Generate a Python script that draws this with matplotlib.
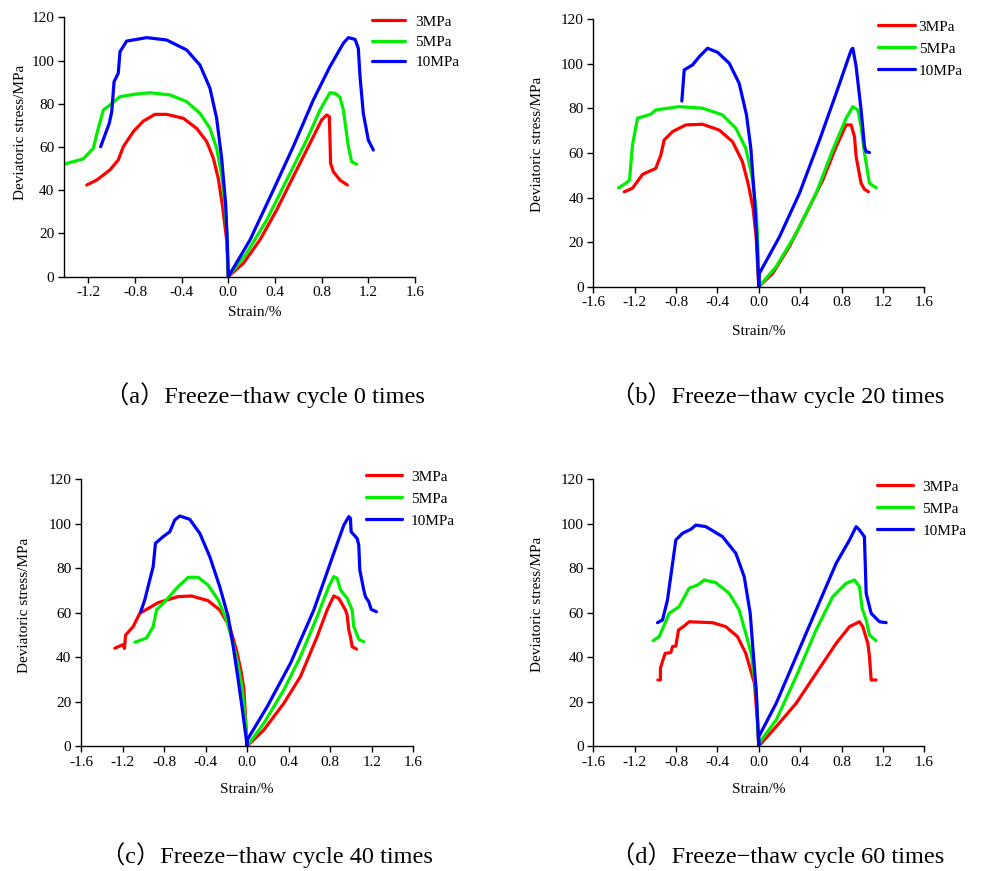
import matplotlib
matplotlib.use("Agg")
import matplotlib.pyplot as plt

plt.rcParams['font.family'] = ['Liberation Serif', 'Noto Sans CJK SC']
plt.rcParams['axes.unicode_minus'] = False

pressures = ['3MPa', '5MPa', '10MPa']
colors = ['#ff0000', '#00ee00', '#0000ff']
captions = ['（a）Freeze−thaw cycle 0 times', '（b）Freeze−thaw cycle 20 times',
            '（c）Freeze−thaw cycle 40 times', '（d）Freeze−thaw cycle 60 times']

# ---- 0 cycles
strain_0_3 = [-1.213, -1.128, -1.014, -0.943, -0.90, -0.814, -0.728, -0.628, -0.528, -0.386, -0.271,
              -0.185, -0.128, -0.086, -0.051, -0.014, 0.0, 0.129, 0.271, 0.414, 0.557, 0.70, 0.80,
              0.843, 0.866, 0.877, 0.90, 0.957, 1.02]
stress_0_3 = [42.4, 44.7, 49.4, 54.0, 60.1, 67.1, 72.0, 75.1, 75.1, 73.3, 68.6,
              62.5, 54.8, 45.5, 33.2, 17.0, 0.0, 6.2, 17.0, 30.8, 46.3, 61.7, 72.5,
              74.8, 74.0, 52.4, 48.6, 44.7, 42.4]
strain_0_5 = [-1.405, -1.243, -1.157, -1.114, -1.071, -1.014, -0.928, -0.80, -0.671, -0.50, -0.357,
              -0.243, -0.157, -0.10, -0.057, -0.028, -0.012, 0.0, 0.157, 0.329, 0.50, 0.671, 0.786,
              0.871, 0.914, 0.957, 0.986, 1.029, 1.057, 1.10]
stress_0_5 = [52.1, 54.5, 59.4, 68.7, 77.1, 79.4, 83.3, 84.4, 85.1, 84.1, 81.0,
              75.6, 68.6, 59.4, 47.1, 33.2, 20.0, 0.0, 10.8, 26.2, 44.7, 63.2, 77.1,
              85.1, 84.8, 83.0, 77.1, 60.2, 53.2, 52.0]
strain_0_10 = [-1.094, -1.02, -0.999, -0.979, -0.943, -0.928, -0.871, -0.699, -0.528, -0.357, -0.243,
               -0.157, -0.10, -0.057, -0.022, -0.008, 0.0, 0.186, 0.386, 0.557, 0.729, 0.871,
               0.986, 1.029, 1.086, 1.114, 1.129, 1.157, 1.20, 1.243]
stress_0_10 = [60.1, 71.0, 76.3, 90.2, 94.1, 104.1, 109.0, 110.6, 109.5, 104.9, 97.9,
               87.2, 73.3, 54.8, 33.2, 15.0, 0.0, 17.0, 40.1, 60.2, 81.8, 97.2,
               108.0, 110.6, 109.8, 105.7, 92.5, 75.6, 63.2, 58.6]

# ---- 20 cycles
strain_20_3 = [-1.301, -1.221, -1.124, -0.996, -0.947, -0.915, -0.834, -0.706, -0.544, -0.383, -0.254,
               -0.158, -0.10, -0.055, -0.025, 0.0, 0.135, 0.296, 0.458, 0.619, 0.748, 0.844,
               0.893, 0.925, 0.941, 0.989, 1.022, 1.06]
stress_20_3 = [42.6, 44.2, 50.4, 53.1, 59.1, 65.8, 69.6, 72.6, 72.9, 70.3, 65.1,
               56.1, 45.6, 35.0, 22.0, 0.0, 6.0, 18.0, 32.9, 47.9, 62.8, 72.6,
               72.6, 67.3, 58.4, 46.4, 43.7, 42.6]
strain_20_5 = [-1.355, -1.286, -1.25, -1.221, -1.173, -1.044, -0.996, -0.77, -0.544, -0.351, -0.222,
               -0.126, -0.068, -0.026, -0.01, 0.0, 0.168, 0.361, 0.554, 0.715, 0.844, 0.909,
               0.957, 0.989, 1.022, 1.07, 1.134]
stress_20_5 = [44.4, 46.4, 47.9, 63.6, 75.6, 77.4, 79.3, 80.8, 80.1, 77.1, 71.1,
               62.1, 50.1, 35.0, 20.0, 0.0, 9.0, 23.9, 41.9, 61.4, 75.6, 80.8,
               79.3, 71.8, 59.9, 46.4, 44.4]
strain_20_10 = [-0.744, -0.721, -0.641, -0.576, -0.496, -0.399, -0.286, -0.19, -0.119, -0.077, -0.044,
                -0.02, 0.0, 0.006, 0.2, 0.393, 0.587, 0.748, 0.893, 0.909, 0.941,
                0.989, 1.022, 1.038, 1.07]
stress_20_10 = [83.3, 97.3, 99.5, 103.2, 107.0, 105.2, 100.3, 91.3, 77.1, 62.1, 41.2,
                22.0, 0.0, 6.0, 22.4, 41.9, 65.8, 86.8, 106.2, 107.0, 98.8,
                79.3, 62.8, 60.6, 60.2]

# ---- 40 cycles
strain_40_3 = [-1.275, -1.194, -1.181, -1.171, -1.098, -1.034, -0.857, -0.665, -0.536, -0.376, -0.264,
               -0.168, -0.103, -0.06, -0.032, 0.0, 0.16, 0.353, 0.513, 0.674, 0.77, 0.834,
               0.883, 0.947, 0.963, 0.979, 0.995, 1.011, 1.053]
stress_40_3 = [44.0, 45.6, 43.9, 49.9, 53.7, 59.7, 64.5, 67.2, 67.5, 65.4, 61.2,
               53.7, 43.2, 34.0, 26.0, 0.0, 7.2, 19.2, 31.2, 49.2, 61.2, 67.5,
               66.4, 61.2, 58.9, 52.2, 49.2, 44.7, 43.6]
strain_40_5 = [-1.082, -0.97, -0.905, -0.873, -0.793, -0.665, -0.568, -0.472, -0.376, -0.279, -0.199,
               -0.135, -0.09, -0.048, -0.02, 0.0, 0.16, 0.353, 0.513, 0.674, 0.786, 0.834, 0.866,
               0.899, 0.963, 1.011, 1.027, 1.075, 1.123]
stress_40_5 = [46.7, 48.5, 53.7, 61.2, 64.9, 71.7, 75.9, 75.9, 72.4, 65.7, 56.7,
               46.2, 37.0, 26.0, 13.0, 0.0, 10.2, 25.2, 40.2, 58.2, 71.7, 76.2, 75.5,
               70.2, 66.5, 61.2, 53.7, 48.0, 46.9]
strain_40_10 = [-1.025, -0.986, -0.938, -0.905, -0.883, -0.809, -0.745, -0.697, -0.649, -0.553, -0.456,
                -0.36, -0.264, -0.183, -0.135, -0.09, -0.045, 0.0, 0.0, 0.193, 0.417, 0.642,
                0.834, 0.931, 0.979, 0.995, 1.001, 1.059, 1.075, 1.085, 1.123, 1.139, 1.171,
                1.194, 1.245]
stress_40_10 = [60.4, 65.7, 74.7, 80.7, 91.2, 94.2, 96.4, 101.7, 103.5, 102.0, 95.7,
                85.2, 71.7, 58.2, 45.0, 31.0, 16.0, 0.0, 2.7, 17.7, 37.2, 61.2,
                86.7, 99.4, 103.2, 102.4, 96.4, 93.4, 90.4, 79.2, 70.2, 67.2, 64.9,
                61.5, 60.4]

# ---- 60 cycles
strain_60_3 = [-0.976, -0.951, -0.951, -0.928, -0.905, -0.851, -0.834, -0.802, -0.776, -0.721, -0.673,
               -0.448, -0.319, -0.206, -0.126, -0.042, -0.015, 0.0, 0.168, 0.361, 0.554,
               0.748, 0.877, 0.973, 1.005, 1.054, 1.07, 1.086, 1.134]
stress_60_3 = [29.7, 29.7, 35.0, 38.5, 41.7, 42.0, 44.7, 45.0, 52.2, 54.0, 55.9,
               55.5, 53.7, 49.2, 41.7, 28.2, 12.0, 0.0, 8.7, 19.2, 32.7,
               46.2, 53.7, 55.9, 53.7, 46.2, 40.2, 29.7, 29.7]
strain_60_5 = [-1.021, -0.963, -0.866, -0.77, -0.673, -0.593, -0.528, -0.416, -0.286, -0.19, -0.126,
               -0.074, -0.026, 0.0, 0.0, 0.168, 0.361, 0.554, 0.715, 0.844,
               0.925, 0.973, 0.999, 1.038, 1.07, 1.134]
stress_60_5 = [47.4, 49.2, 59.7, 62.7, 71.0, 72.4, 74.7, 73.5, 68.7, 61.2, 50.7,
               41.7, 25.2, 0.0, 1.2, 11.7, 31.2, 52.2, 67.2, 73.2,
               74.7, 71.7, 61.9, 56.7, 49.9, 47.4]
strain_60_10 = [-0.979, -0.931, -0.883, -0.802, -0.738, -0.657, -0.609, -0.512, -0.351, -0.222, -0.141,
                -0.083, -0.051, -0.025, 0.0, 0.0, 0.168, 0.361, 0.554, 0.748, 0.877, 0.941, 0.973,
                1.021, 1.038, 1.086, 1.167, 1.231]
stress_60_10 = [55.5, 56.7, 65.7, 92.7, 95.7, 97.5, 99.4, 98.7, 94.2, 86.7, 76.2,
                59.7, 40.2, 25.0, 0.0, 4.2, 19.2, 40.2, 61.2, 82.2, 92.7, 98.7, 97.2,
                94.2, 68.7, 59.7, 55.9, 55.5]

panels = [
    [(strain_0_3, stress_0_3), (strain_0_5, stress_0_5), (strain_0_10, stress_0_10)],
    [(strain_20_3, stress_20_3), (strain_20_5, stress_20_5), (strain_20_10, stress_20_10)],
    [(strain_40_3, stress_40_3), (strain_40_5, stress_40_5), (strain_40_10, stress_40_10)],
    [(strain_60_3, stress_60_3), (strain_60_5, stress_60_5), (strain_60_10, stress_60_10)],
]

W, H = 981, 871
fig = plt.figure(figsize=(W / 100, H / 100), dpi=100)

def px(x, y):
    return x / W, 1 - y / H

# axes boxes in pixels: left, right, top, bottom
boxes = [(64, 415, 17.3, 276.7), (593.3, 924.3, 19.3, 286.7),
         (81, 413.3, 479.3, 746), (593.3, 924.3, 479.3, 746)]
xlims = [(-1.408, 1.6), (-1.6, 1.6), (-1.6, 1.6), (-1.6, 1.6)]
ylab_pos = [(-0.104, 0.556), (-0.150, 0.531), (-0.150, 0.529), (-0.150, 0.53)]
xlab_pos = [(0.544, -0.112), (0.5, -0.142), (0.5, -0.139), (0.5, -0.139)]
leg_pos = [(371.7, 15), (878, 20), (366, 470), (876.7, 480)]
leg_len = [2.2, 2.4, 2.35, 2.4]
leg_pad = [0.65, 0.26, 0.6, 0.6]
leg_space = [0.43, 0.54, 0.54, 0.54]
cap_pos = [(265, 395), (778, 395), (267, 855), (778, 855)]

for k, series in enumerate(panels):
    l, r, t, b = boxes[k]
    ax = fig.add_axes([l / W, 1 - b / H, (r - l) / W, (b - t) / H])
    lines = []
    for (xs, ys), c in zip(series, colors):
        ln, = ax.plot(xs, ys, color=c, lw=2.3, solid_joinstyle='round', solid_capstyle='round')
        lines.append(ln)
    ax.set_xlim(*xlims[k])
    ax.set_ylim(0, 120)
    xt = [-1.6, -1.2, -0.8, -0.4, 0.0, 0.4, 0.8, 1.2, 1.6]
    xt = [v for v in xt if v >= xlims[k][0] - 1e-9]
    ax.set_xticks(xt)
    ax.set_xticklabels(['%.1f' % v for v in xt])
    ax.set_yticks(range(0, 121, 20))
    for s in ['top', 'right']:
        ax.spines[s].set_visible(False)
    for s in ['left', 'bottom']:
        ax.spines[s].set_linewidth(1.0)
    ax.tick_params(direction='out', length=4, width=1, labelsize=11, pad=3)
    ax.set_ylabel('Deviatoric stress/MPa', fontsize=11)
    ax.yaxis.set_label_coords(*ylab_pos[k])
    ax.set_xlabel('Strain/%', fontsize=11)
    ax.xaxis.set_label_coords(*xlab_pos[k])
    ax.legend(lines, pressures, loc='upper left', bbox_to_anchor=px(*leg_pos[k]),
              bbox_transform=fig.transFigure, frameon=False, fontsize=11,
              borderpad=0, borderaxespad=0, handlelength=leg_len[k],
              handletextpad=leg_pad[k], labelspacing=leg_space[k])
    fig.text(*px(*cap_pos[k]), captions[k], fontsize=17.5, ha='center', va='center')

fig.savefig('out.png', dpi=100)
